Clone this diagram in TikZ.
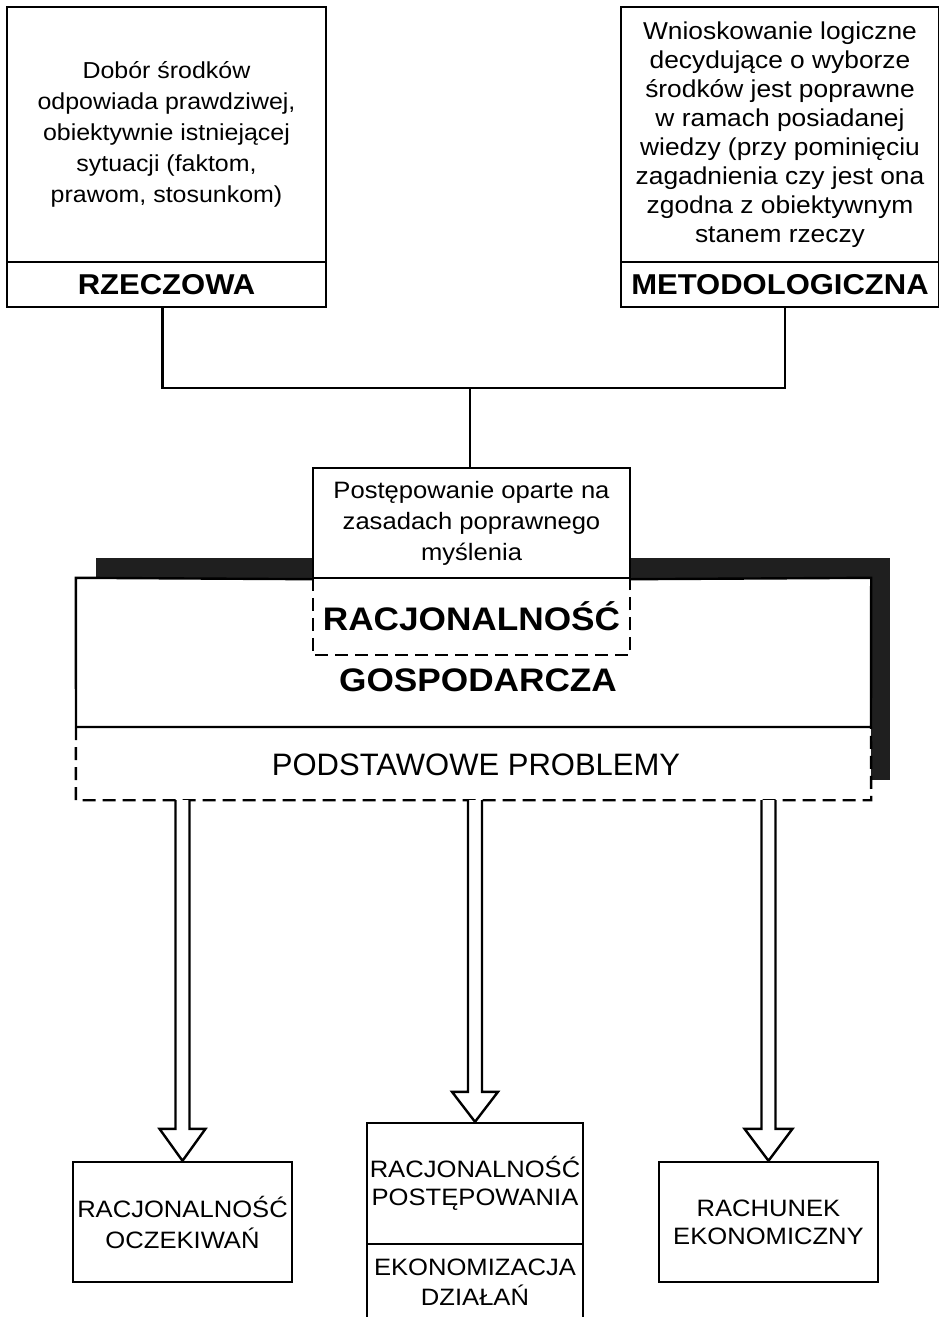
\documentclass[tikz,border=0pt]{standalone}
\usepackage{fontspec}
\setmainfont[FakeStretch=1.08]{Liberation Sans}
\newfontfamily\plainsans{Liberation Sans}
\usetikzlibrary{calc}

\tikzset{
  frame/.style={draw, line width=2.4pt, fill=white, inner sep=0pt, align=center},
  bare/.style={inner sep=0pt, align=center},
  link/.style={line width=2.4pt},
  dashline/.style={line width=2.4pt, dash pattern=on 13pt off 7pt},
  hollow/.style={line width=2.4pt, line join=miter, fill=white},
  shadowfill/.style={fill=black!88},
}

\begin{document}
\begin{tikzpicture}[x=1pt,y=-1pt]
\useasboundingbox (0,0) rectangle (939,1317);

% --- two kinds of rationality at the top ---
\node[frame, minimum width=319pt, minimum height=255pt,
      font=\fontsize{23.1}{31}\selectfont] (rzdesc) at (166.5,134.5)
  {Dobór środków\\odpowiada prawdziwej,\\obiektywnie istniejącej\\sytuacji (faktom,\\prawom, stosunkom)};
\node[frame, minimum width=319pt, minimum height=45pt,
      font=\bfseries\fontsize{28.7}{30}\selectfont] (rzecz) at (166.5,284.5) {RZECZOWA};

\node[frame, minimum width=318pt, minimum height=255pt,
      font=\fontsize{24.4}{29}\selectfont] (mtdesc) at (780,134.5)
  {Wnioskowanie logiczne\\decydujące o wyborze\\środków jest poprawne\\w ramach posiadanej\\wiedzy (przy pominięciu\\zagadnienia czy jest ona\\zgodna z obiektywnym\\stanem rzeczy};
\node[frame, minimum width=318pt, minimum height=45pt,
      font=\bfseries\fontsize{28.7}{30}\selectfont] (metod) at (780,284.5) {METODOLOGICZNA};

% --- central box with its shadow ---
\fill[shadowfill] (96,558) rectangle (890,780);
\node[bare, fill=white, minimum width=795pt, minimum height=222pt] (main) at (473.5,689) {};

\node[frame, minimum width=317pt, minimum height=110pt,
      font=\fontsize{23.7}{31}\selectfont] (post) at (471.5,523)
  {Postępowanie oparte na\\zasadach poprawnego\\myślenia};

\node[bare, minimum width=317pt, minimum height=77pt,
      font=\bfseries\fontsize{32.6}{34}\selectfont] (racj) at (471.5,616.5) {RACJONALNOŚĆ};
\node[bare, font=\bfseries\fontsize{32.6}{34}\selectfont] (gosp) at (478,680) {GOSPODARCZA};
\node[bare, font=\plainsans\fontsize{31}{34}\selectfont] (prob) at (476,765) {PODSTAWOWE PROBLEMY};

\coordinate (dl) at (76,727);
\coordinate (dr) at (871,727);
\draw[link] (dl) -- (main.north west) -- (post.south west);
\draw[link] (post.south east) -- (main.north east) -- (dr) -- (dl);
\draw[dashline] (dl) -- (main.south west) -- (main.south east) -- (dr);
\draw[dashline] (racj.north west) -- (racj.south west) -- (racj.south east) -- (racj.north east);

% --- connectors from the top boxes ---
\coordinate (join) at (470,388);
\draw[link] ([xshift=-4pt]rzecz.south) |- (join) -| ([xshift=5pt]metod.south);
\draw[link] (join) -- (post.north -| join);

% --- bottom boxes ---
\node[frame, minimum width=219pt, minimum height=120pt,
      font=\fontsize{23.7}{31}\selectfont] (oczek) at (182.5,1222)
  {RACJONALNOŚĆ\\OCZEKIWAŃ};
\node[frame, minimum width=216pt, minimum height=121pt,
      font=\fontsize{23.7}{28}\selectfont] (postep) at (475,1183.5)
  {RACJONALNOŚĆ\\POSTĘPOWANIA};
\node[frame, minimum width=216pt, minimum height=76pt,
      font=\fontsize{23.7}{30}\selectfont] (ekon) at (475,1282)
  {EKONOMIZACJA\\DZIAŁAŃ};
\node[frame, minimum width=219pt, minimum height=120pt,
      font=\fontsize{23.7}{28}\selectfont] (rach) at (768.5,1222)
  {RACHUNEK\\EKONOMICZNY};

% --- hollow block arrows ---
\draw[hollow] let \p1=(oczek.north), \p2=(main.south) in
  (\x1-7pt,\y2) -- (\x1-7pt,\y1+32pt) -- (\x1-23pt,\y1+32pt) -- (\p1)
  -- (\x1+23pt,\y1+32pt) -- (\x1+7pt,\y1+32pt) -- (\x1+7pt,\y2);
\draw[hollow] let \p1=(postep.north), \p2=(main.south) in
  (\x1-7pt,\y2) -- (\x1-7pt,\y1+30pt) -- (\x1-23pt,\y1+30pt) -- (\p1)
  -- (\x1+23pt,\y1+30pt) -- (\x1+7pt,\y1+30pt) -- (\x1+7pt,\y2);
\draw[hollow] let \p1=(rach.north), \p2=(main.south) in
  (\x1-7pt,\y2) -- (\x1-7pt,\y1+32pt) -- (\x1-24pt,\y1+32pt) -- (\p1)
  -- (\x1+24pt,\y1+32pt) -- (\x1+7pt,\y1+32pt) -- (\x1+7pt,\y2);
\end{tikzpicture}
\end{document}
